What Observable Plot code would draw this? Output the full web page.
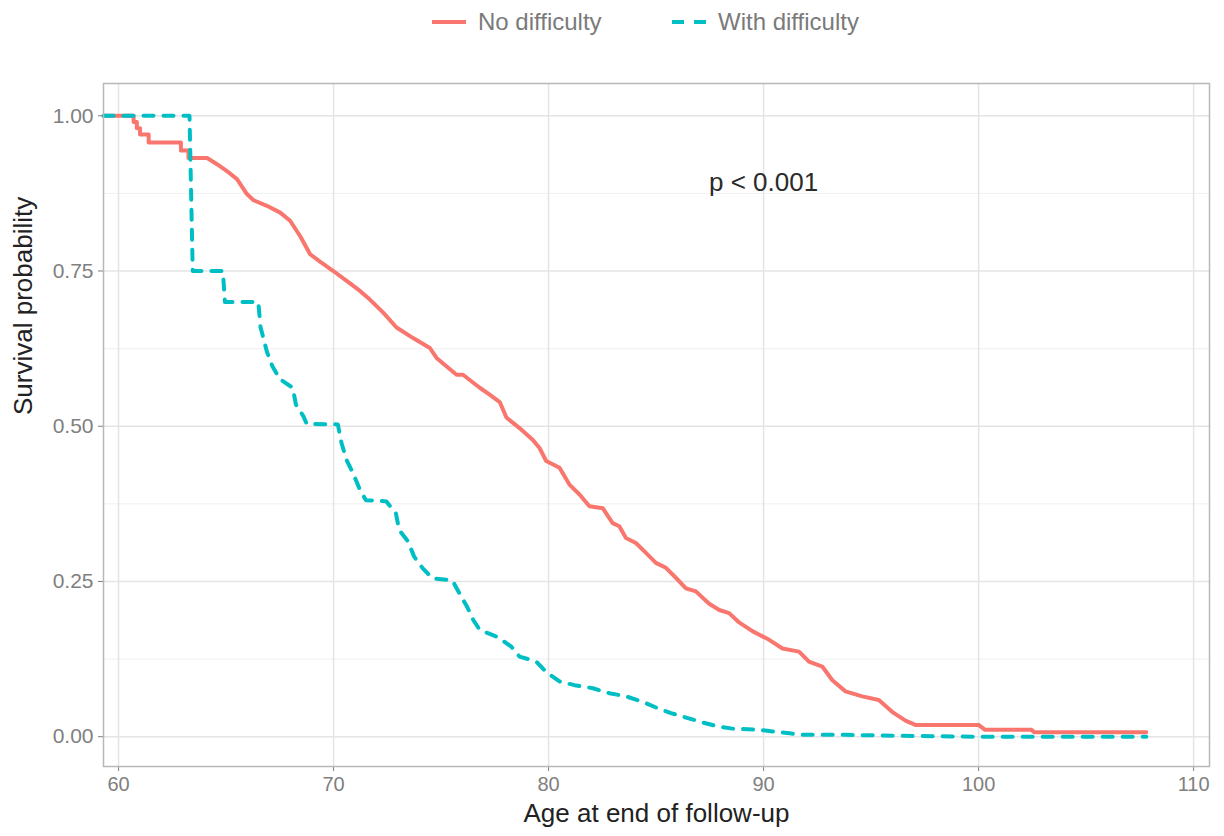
<!DOCTYPE html>
<html>
<head>
<meta charset="utf-8">
<script src="https://cdn.jsdelivr.net/npm/d3@7"></script>
<script src="https://cdn.jsdelivr.net/npm/@observablehq/plot@0.6"></script>
<style>
  html, body { margin: 0; padding: 0; background: #fff; }
  #wrap { width: 1224px; height: 836px; position: relative; font-family: "Liberation Sans", Arial, sans-serif; }
  #legend { position: relative; width: 1224px; height: 50px; }
  #legend .sw { position: absolute; top: 12px; }
  #legend .lab { position: absolute; top: 8px; font-size: 24px; line-height: 27px; color: #7a7a7a; }
</style>
</head>
<body>
<div id="wrap">
  <div id="legend"></div>
  <div id="chart"></div>
</div>
<script>
// ---- Data ----
const groupNames = ["No difficulty", "With difficulty"];
const groupColors = ["#F8766D", "#00BFC4"];

// No difficulty: survival curve vertices (flat runs and drops)
const ageNo = [59.3, 60.7, 60.7, 60.85, 60.85, 61.0, 61.0, 61.4, 61.4, 62.9, 62.9, 63.25, 63.25, 64.12, 64.58, 65.04, 65.51, 65.97, 66.28, 66.9, 67.52, 67.98, 68.45, 68.91, 69.37, 69.99, 70.61, 71.23, 71.69, 72.31, 72.93, 73.7, 74.48, 74.79, 75.72, 76.02, 76.8, 77.26, 77.73, 78.04, 78.65, 79.27, 79.58, 79.89, 80.51, 80.97, 81.44, 81.9, 82.52, 82.98, 83.29, 83.6, 84.06, 84.53, 84.99, 85.46, 85.92, 86.39, 86.85, 87.47, 87.94, 88.4, 88.86, 89.48, 90.26, 90.88, 91.65, 92.11, 92.73, 93.2, 93.81, 94.59, 95.36, 95.98, 96.6, 97.06, 100.0, 100.3, 102.46, 102.6, 107.8];
const survNo = [1.0, 1.0, 0.99, 0.99, 0.98, 0.98, 0.97, 0.97, 0.957, 0.957, 0.944, 0.944, 0.932, 0.932, 0.922, 0.911, 0.898, 0.874, 0.864, 0.855, 0.844, 0.831, 0.806, 0.777, 0.765, 0.75, 0.734, 0.718, 0.704, 0.683, 0.659, 0.642, 0.626, 0.61, 0.583, 0.583, 0.562, 0.551, 0.539, 0.514, 0.497, 0.478, 0.465, 0.444, 0.433, 0.406, 0.39, 0.371, 0.368, 0.344, 0.339, 0.32, 0.312, 0.296, 0.28, 0.272, 0.256, 0.239, 0.234, 0.214, 0.204, 0.199, 0.184, 0.17, 0.156, 0.142, 0.137, 0.121, 0.113, 0.091, 0.073, 0.065, 0.059, 0.04, 0.026, 0.019, 0.019, 0.011, 0.011, 0.007, 0.007];

// With difficulty
const ageWith = [59.3, 63.3, 63.45, 64.85, 64.95, 66.5, 66.6, 66.9, 67.15, 67.5, 68.1, 68.25, 68.6, 68.75, 70.2, 70.37, 70.6, 70.9, 71.2, 71.5, 72.45, 72.9, 73.05, 73.45, 73.75, 74.15, 74.6, 75.5, 75.6, 75.9, 76.2, 76.5, 76.8, 77.65, 78.27, 78.65, 79.43, 79.89, 80.51, 81.21, 82.06, 82.83, 83.6, 84.38, 85.0, 85.69, 86.47, 87.16, 87.94, 88.55, 89.79, 91.3, 91.6, 93.8, 96.0, 100.0, 107.8];
const survWith = [1.0, 1.0, 0.75, 0.75, 0.70, 0.70, 0.66, 0.62, 0.597, 0.576, 0.562, 0.535, 0.516, 0.504, 0.503, 0.473, 0.446, 0.425, 0.40, 0.381, 0.379, 0.36, 0.333, 0.315, 0.29, 0.271, 0.255, 0.252, 0.247, 0.228, 0.21, 0.188, 0.172, 0.16, 0.145, 0.129, 0.121, 0.104, 0.089, 0.083, 0.078, 0.07, 0.065, 0.056, 0.047, 0.038, 0.03, 0.023, 0.016, 0.013, 0.011, 0.005, 0.003, 0.003, 0.0016, 0.0, 0.0];

const xTicks = [60, 70, 80, 90, 100, 110];
const yTicks = [0, 0.25, 0.5, 0.75, 1.0];
const yMinor = [0.125, 0.375, 0.625, 0.875];
const xTitle = "Age at end of follow-up";
const yTitle = "Survival probability";
const pText = ["p < 0.001"];
const pX = [90.0];
const pY = [0.892];

// ---- Build tables ----
const noDiff = ageNo.map((a, i) => ({age: a, s: survNo[i]}));
const withDiff = ageWith.map((a, i) => ({age: a, s: survWith[i]}));
const pData = pText.map((t, i) => ({text: t, x: pX[i], y: pY[i]}));

// ---- Legend (HTML, above the SVG) ----
const legend = document.getElementById("legend");
legend.innerHTML = `
  <svg class="sw" style="left:431px" width="36" height="20"><line x1="1" x2="35" y1="10" y2="10" stroke="${groupColors[0]}" stroke-width="4"/></svg>
  <span class="lab" style="left:478px">${groupNames[0]}</span>
  <svg class="sw" style="left:671px" width="36" height="20"><line x1="1" x2="35" y1="10" y2="10" stroke="${groupColors[1]}" stroke-width="4" stroke-dasharray="12,10"/></svg>
  <span class="lab" style="left:718px">${groupNames[1]}</span>`;

// ---- Chart ----
const chart = Plot.plot({
  width: 1224,
  height: 786,
  marginTop: 33,
  marginBottom: 70,
  marginLeft: 103,
  marginRight: 15,
  x: {domain: [59.3, 110.74]},
  y: {domain: [-0.048, 1.052]},
  style: {fontFamily: "'Liberation Sans', Arial, sans-serif", background: "white", overflow: "visible"},
  marks: [
    Plot.gridY(yMinor, {stroke: "#f0f0f0", strokeOpacity: 1, strokeWidth: 1}),
    Plot.gridY(yTicks, {stroke: "#e4e4e4", strokeOpacity: 1, strokeWidth: 1.5}),
    Plot.gridX(xTicks, {stroke: "#e4e4e4", strokeOpacity: 1, strokeWidth: 1.5}),
    Plot.axisX(xTicks, {tickSize: 5, tickPadding: 5, fontSize: 20, color: "#808080", label: null, tickFormat: d => String(d)}),
    Plot.axisY(yTicks, {tickSize: 5, tickPadding: 5, fontSize: 21, color: "#808080", label: null, tickFormat: d3.format(".2f")}),
    Plot.line(noDiff, {x: "age", y: "s", curve: "linear", stroke: groupColors[0], strokeWidth: 4, strokeLinejoin: "round"}),
    Plot.line(withDiff, {x: "age", y: "s", curve: "linear", stroke: groupColors[1], strokeWidth: 4, strokeDasharray: "10,10"}),
    Plot.frame({stroke: "#b8b8b8", strokeWidth: 1.5}),
    Plot.text([xTitle], {frameAnchor: "bottom", dy: 55, fontSize: 26, fill: "#222"}),
    Plot.text([yTitle], {frameAnchor: "left", dx: -80, dy: -10, rotate: -90, fontSize: 26, fill: "#222"}),
    Plot.text(pData, {x: "x", y: "y", text: "text", fontSize: 26, fill: "#2a2a2a", fontWeight: 500})
  ]
});
document.getElementById("chart").appendChild(chart);
</script>
</body>
</html>
